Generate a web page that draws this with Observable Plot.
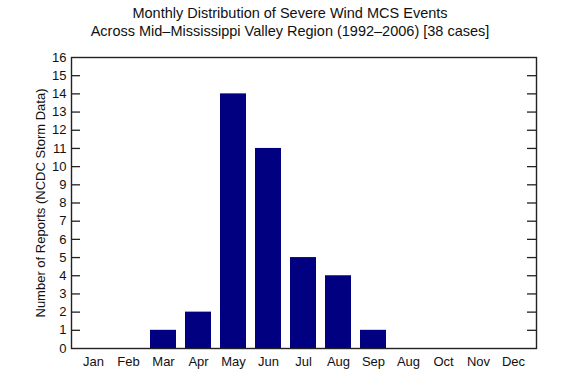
<!DOCTYPE html>
<html>
<head>
<meta charset="utf-8">
<script src="https://cdn.jsdelivr.net/npm/d3@7"></script>
<script src="https://cdn.jsdelivr.net/npm/@observablehq/plot@0.6"></script>
<style>
  html, body { margin: 0; padding: 0; background: #fff; }
  #wrap { position: relative; width: 580px; height: 385px; font-family: "Liberation Sans", Arial, sans-serif; }
  #title { position: absolute; left: 0; top: 4px; width: 580px; text-align: center; font-size: 14.5px; line-height: 18px; color: #111; }
  #chart { position: absolute; left: 0; top: 0; }
</style>
</head>
<body>
<div id="wrap">
  <div id="chart"></div>
  <div id="title">Monthly Distribution of Severe Wind MCS Events<br>Across Mid–Mississippi Valley Region (1992–2006) [38 cases]</div>
</div>
<script>
const months = ["Jan","Feb","Mar","Apr","May","Jun","Jul","Aug","Sep","Aug","Oct","Nov","Dec"];
const counts = [0, 0, 1, 2, 14, 11, 5, 4, 1, 0, 0, 0, 0];
const yTicks = [0,1,2,3,4,5,6,7,8,9,10,11,12,13,14,15,16];
const yLabel = "Number of Reports (NCDC Storm Data)";

const data = months.map((m, i) => ({i, month: m, count: counts[i]}));

const W = 580, H = 385, ML = 71, MR = 44, MT = 57, MB = 37;
const frameW = W - ML - MR;
const tickLen = 9;

const chart = Plot.plot({
  width: W,
  height: H,
  marginLeft: ML,
  marginRight: MR,
  marginTop: MT,
  marginBottom: MB,
  style: {fontFamily: "'Liberation Sans', Arial, sans-serif", fontSize: "13px", color: "#111", background: "white"},
  x: {type: "band", domain: d3.range(months.length), paddingInner: 0.25, paddingOuter: 0.125, align: 0.5},
  y: {domain: [0, 16]},
  marks: [
    Plot.barY(data, {x: "i", y: "count", fill: "#000080"}),
    Plot.tickY(yTicks.slice(1, -1), {y: d => d, stroke: "#222", strokeWidth: 1.3, insetRight: frameW - tickLen}),
    Plot.tickY(yTicks.slice(1, -1), {y: d => d, stroke: "#222", strokeWidth: 1.3, insetLeft: frameW - tickLen}),
    Plot.axisY(yTicks, {anchor: "left", tickSize: 0, tickPadding: 5, label: yLabel, labelAnchor: "center", labelArrow: "none", labelOffset: 36, fontSize: 13}),
    Plot.axisX(d3.range(months.length), {anchor: "bottom", tickSize: 0, tickPadding: 8, tickFormat: i => months[i], label: null, fontSize: 13}),
    Plot.frame({stroke: "#222", strokeWidth: 1.4})
  ]
});
document.getElementById("chart").appendChild(chart);
</script>
</body>
</html>
